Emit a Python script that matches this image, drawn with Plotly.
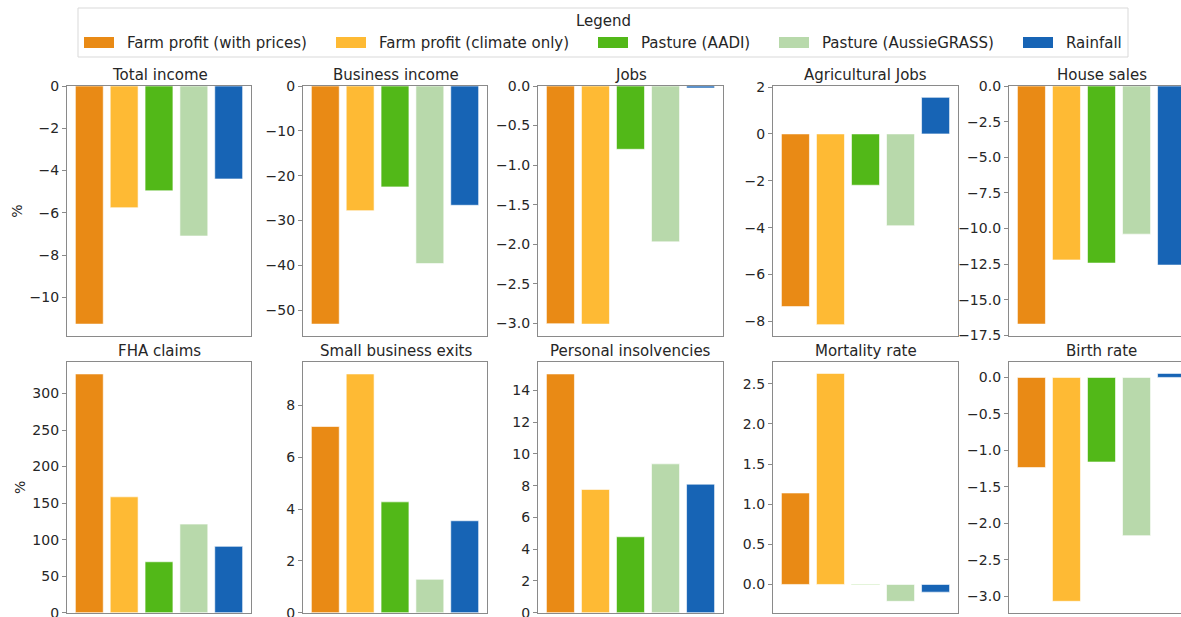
import plotly.graph_objects as go

metrics = ["Total income", "Business income", "Jobs", "Agricultural Jobs", "House sales",
           "FHA claims", "Small business exits", "Personal insolvencies", "Mortality rate", "Birth rate"]
series_names = ["Farm profit (with prices)", "Farm profit (climate only)", "Pasture (AADI)",
                "Pasture (AussieGRASS)", "Rainfall"]

farm_prices = [-11.27, -53.1, -3.005, -7.37, -16.7, 326.8, 7.19, 15.03, 1.14, -1.236]
farm_climate = [-5.76, -27.8, -3.01, -8.14, -12.2, 158.6, 9.22, 7.76, 2.63, -3.07]
pasture_aadi = [-4.96, -22.5, -0.80, -2.19, -12.42, 69.7, 4.28, 4.78, 0.006, -1.16]
pasture_aussiegrass = [-7.1, -39.6, -1.97, -3.92, -10.39, 121.3, 1.29, 9.37, -0.21, -2.17]
rainfall = [-4.4, -26.6, -0.025, 1.56, -12.56, 90.8, 3.55, 8.09, -0.096, 0.055]

tick_step = [2, 10, 0.5, 2, 2.5, 50, 2, 2, 0.5, 0.5]
tick_decimals = [0, 0, 1, 0, 1, 0, 0, 0, 1, 1]

series_values = [farm_prices, farm_climate, pasture_aadi, pasture_aussiegrass, rainfall]
colors = ["#E98A15", "#FEBA34", "#52B818", "#B8D9AB", "#1764B5"]

W, H = 1181, 617
col_px = [(67, 251), (303, 487), (538, 723), (773, 958), (1009, 1181)]
row_px = [(86, 336), (362, 612.7)]
FONT = "DejaVu Sans"
TXT = "#262626"
SPINE = "#8a8a8a"

fig = go.Figure()
layout = dict(
    width=W, height=H, margin=dict(l=0, r=0, t=0, b=0, autoexpand=False),
    paper_bgcolor="white", plot_bgcolor="white",
    font=dict(family=FONT, size=14, color=TXT),
    barmode="overlay", showlegend=False,
)
annotations = []
shapes = []
for k, name in enumerate(metrics):
    r, c = divmod(k, 5)
    n = k + 1
    xa = "x" if n == 1 else f"x{n}"
    ya = "y" if n == 1 else f"y{n}"
    for s in range(5):
        fig.add_trace(go.Bar(
            x=[s], y=[series_values[s][k]], width=0.8, name=series_names[s],
            marker=dict(color=colors[s], line=dict(color="rgba(255,255,255,0.6)", width=1)),
            legendgroup=series_names[s], showlegend=False,
            xaxis=xa, yaxis=ya, hovertemplate=f"{name}<br>{series_names[s]}: %{{y}}<extra></extra>",
        ))
    vals = [sv[k] for sv in series_values]
    lo, hi = min(vals + [0]), max(vals + [0])
    span = hi - lo
    lo2 = lo - 0.05 * span if lo < 0 else 0
    hi2 = hi + 0.05 * span if hi > 0 else 0
    x0, x1 = col_px[c]
    y0, y1 = row_px[r]
    xdom = [x0 / W, x1 / W]
    ydom = [1 - y1 / H, 1 - y0 / H]
    last = (c == 4)
    xrange = [-0.64, -0.64 + (x1 - x0) / (185 / 5.28)] if last else [-0.64, 4.64]
    layout["xaxis" if n == 1 else f"xaxis{n}"] = dict(
        domain=xdom, range=xrange, anchor=ya, showticklabels=False, ticks="",
        showgrid=False, zeroline=False, showline=True, mirror=True, automargin=False,
        linecolor=SPINE, linewidth=1.3, fixedrange=True,
    )
    layout["yaxis" if n == 1 else f"yaxis{n}"] = dict(
        domain=ydom, range=[lo2, hi2], anchor=xa, showgrid=False, zeroline=False,
        showline=True, mirror=(not last), linecolor=SPINE, linewidth=1.3, automargin=False,
        ticks="outside", ticklen=4, tickcolor=SPINE, tickwidth=1,
        tick0=0, dtick=tick_step[k], tickformat=f".{tick_decimals[k]}f",
        ticklabeloverflow="allow",
        tickfont=dict(size=14, color=TXT), fixedrange=True,
        title=dict(text="%" if c == 0 else "", font=dict(size=14, color=TXT), standoff=3),
    )
    annotations.append(dict(
        text=name, x=(x0 + 92.5) / W,
        y=ydom[1], xref="paper", yref="paper",
        xanchor="center", yanchor="bottom", yshift=0, showarrow=False,
        font=dict(size=15, color=TXT),
    ))

# Custom legend (matplotlib-style: wide swatches, title centred on top)
shapes.append(dict(type="rect", xref="paper", yref="paper",
                   x0=78 / W, x1=1128 / W, y0=1 - 57 / H, y1=1 - 8 / H,
                   line=dict(color="#d9d9d9", width=1), fillcolor="white", layer="below"))
annotations.append(dict(text="Legend", x=603 / W, y=1 - 21 / H, xref="paper", yref="paper",
                        xanchor="center", yanchor="middle", showarrow=False,
                        font=dict(size=15, color=TXT)))
swatch_x = [84, 336, 598, 779, 1023]
for s, sx in enumerate(swatch_x):
    shapes.append(dict(type="rect", xref="paper", yref="paper",
                       x0=sx / W, x1=(sx + 30) / W, y0=1 - 48 / H, y1=1 - 37 / H,
                       line=dict(width=0), fillcolor=colors[s]))
    annotations.append(dict(text=series_names[s], x=(sx + 41) / W, y=1 - 43 / H,
                            xref="paper", yref="paper", xanchor="left", yanchor="middle",
                            showarrow=False, font=dict(size=15, color=TXT)))

layout["annotations"] = annotations
layout["shapes"] = shapes
fig.update_layout(**layout)
fig.write_html(
    "out.html",
    config={"displayModeBar": False},
    post_script=(
        "document.documentElement.style.margin='0px';"
        "document.body.style.margin='0px';"
        "document.body.style.overflow='hidden';"
        "var gd=document.getElementById('{plot_id}');"
        "gd.style.position='fixed';gd.style.top='0px';gd.style.left='0px';"
    ),
)
